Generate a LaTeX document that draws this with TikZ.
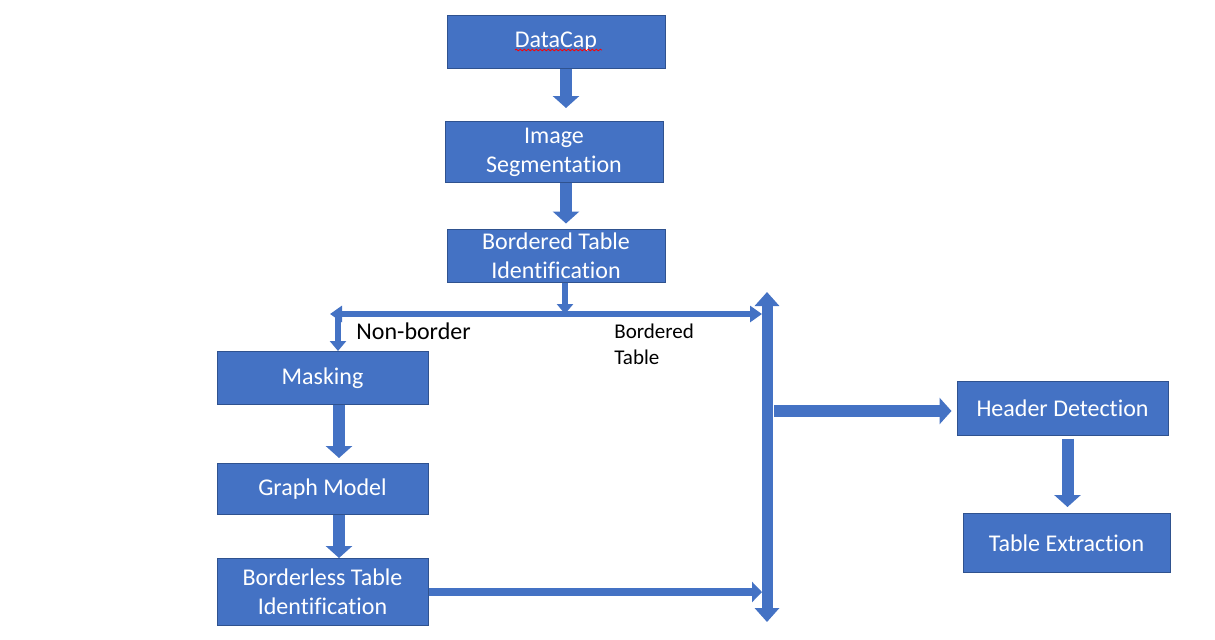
\documentclass[tikz,border=0pt]{standalone}
\usepackage{fontspec}
\setmainfont{Carlito}[Ligatures=NoCommon]
\usetikzlibrary{arrows.meta, decorations.pathmorphing}
\definecolor{boxblue}{HTML}{4472C4}
\definecolor{edgeblue}{HTML}{2F528F}

\begin{document}
\begin{tikzpicture}[x=0.5pt, y=-0.5pt,
  box/.style={draw=edgeblue, line width=0.5pt, fill=boxblue, text=white, align=center, inner sep=0pt, font=\fontsize{12}{14.5}\selectfont},
  bigarrow/.style={draw=boxblue, line width=6pt, -{Triangle[width=13pt, length=6pt]}},
  midarrow/.style={draw=boxblue, line width=4pt, -{Triangle[width=10pt, length=5pt]}},
  thinarrow/.style={draw=boxblue, line width=3pt, -{Triangle[width=8pt, length=5pt]}}]
\useasboundingbox (0,0) rectangle (1215,639);

\node[box, minimum width=109pt, minimum height=26.5pt] (datacap) at (556,42) {DataCap};
\node[box, minimum width=109pt, minimum height=30.5pt] (imgseg) at (554,152) {Image\\Segmentation};
\node[box, minimum width=109pt, minimum height=26.5pt] (bti) at (556,255.5) {Bordered Table\\Identification};
\node[box, minimum width=105.5pt, minimum height=26.5pt] (masking) at (322.5,378) {Masking};
\node[box, minimum width=105.5pt, minimum height=25.5pt] (graph) at (322.5,489) {Graph Model};
\node[box, minimum width=105.5pt, minimum height=33.5pt] (bless) at (322.5,592) {Borderless Table\\Identification};
\node[box, minimum width=105.5pt, minimum height=27pt] (header) at (1062.5,408) {Header Detection};
\node[box, minimum width=103.5pt, minimum height=29.5pt] (textr) at (1066.5,543) {Table Extraction};

\draw[red, line width=0.4pt, decorate, decoration={snake, amplitude=0.4pt, segment length=2pt}]
  ([xshift=-20.5pt, yshift=-4pt]datacap.center) -- ([xshift=23pt, yshift=-4pt]datacap.center);

\coordinate (split) at (565,314);
\coordinate (splitL) at (330,314);
\coordinate (splitR) at (762,314);
\coordinate (nb) at (338,314);
\coordinate (vtop) at (767,292);
\coordinate (vbot) at (767,622);
\coordinate (hsrc) at (774,411);

\node[anchor=west, inner sep=0pt, font=\fontsize{12}{14}\selectfont] (nonborder) at (356,331) {Non-border};
\node[anchor=north west, inner sep=0pt, align=left, font=\fontsize{10.5}{13}\selectfont] (bordlbl) at (614,324) {Bordered\\Table};

\draw[bigarrow, shorten >=6.5pt] ([xshift=5pt]datacap.south) -- ([xshift=6pt]imgseg.north);
\draw[bigarrow, shorten >=2.5pt] ([xshift=6pt]imgseg.south) -- ([xshift=5pt]bti.north);
\draw[thinarrow] (bti.south -| split) -- (split);
\draw[thinarrow, {Triangle[width=8pt, length=6pt]}-{Triangle[width=8pt, length=6pt]}] (splitL) -- (splitR);
\draw[thinarrow] (nb) -- (nb |- masking.north);

\draw[bigarrow, line width=5.5pt, {Triangle[width=12pt, length=7pt]}-{Triangle[width=12pt, length=7pt]}] (vtop) -- (vbot);
\draw[bigarrow, shorten >=2.5pt] (hsrc) -- (hsrc -| header.west);
\draw[bigarrow, shorten <=1.5pt, shorten >=3pt] ([xshift=2.5pt]header.south) coordinate (hd) -- (hd |- textr.north);

\draw[bigarrow, shorten >=2.5pt] ([xshift=8.25pt]masking.south) -- ([xshift=8.25pt]graph.north);
\draw[bigarrow] ([xshift=8.25pt]graph.south) -- ([xshift=8.25pt]bless.north);
\draw[midarrow, shorten >=2.5pt] (bless.east) -- (bless.east -| vbot);

\end{tikzpicture}
\end{document}
